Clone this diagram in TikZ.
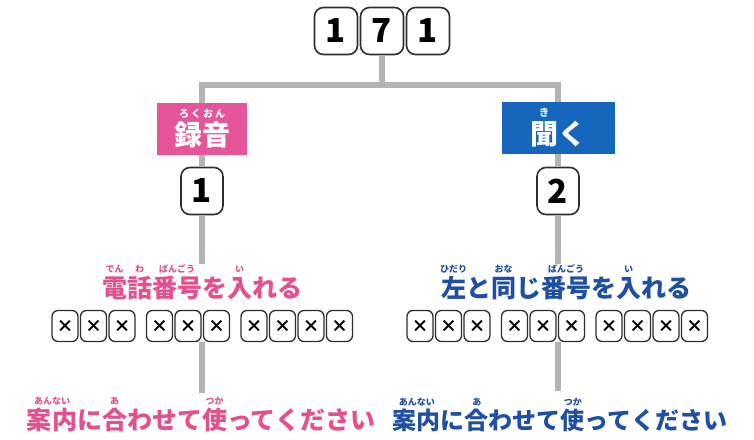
\documentclass[tikz,border=0pt]{standalone}
\usepackage{fontspec}
\newfontfamily\jp{Noto Sans CJK JP}
\definecolor{wiregray}{HTML}{B4B4B4}
\definecolor{keyline}{HTML}{2E2E2E}
\definecolor{recpink}{HTML}{E6549A}
\definecolor{txtpink}{HTML}{E4508F}
\definecolor{playblue}{HTML}{1766BE}
\definecolor{txtblue}{HTML}{1F4FA3}
\newcommand\rbsmall{\fontsize{9}{9}\selectfont}
\newcommand\rbbig{\fontsize{10}{10}\selectfont}
% ruby over a base word
\newcommand\rb[3][\rbsmall]{\leavevmode\setbox0\hbox{#2}%
  \rlap{\hbox to\wd0{\hss\raisebox{1.0em}{#1#3}\hss}}\box0}

\begin{document}
\begin{tikzpicture}[x=1pt, y=-1pt,
  wire/.style={draw=wiregray, line width=6pt},
  keybox/.style={draw=keyline, line width=1.6pt, rounded corners=9pt, fill=white,
    minimum width=43pt, minimum height=47pt, inner sep=0pt,
    font=\fontsize{33}{33}\selectfont\jp\bfseries},
  xbox/.style={draw=keyline, line width=1.3pt, rounded corners=6pt, fill=white,
    minimum width=26pt, minimum height=31pt, inner sep=0pt,
    font=\fontsize{17}{17}\selectfont\jp\bfseries},
  tag/.style={minimum height=52pt, inner sep=0pt, text=white,
    font=\fontsize{28}{28}\selectfont\jp\bfseries},
  guide/.style={anchor=base, inner sep=0pt,
    font=\fontsize{25}{25}\selectfont\jp\bfseries}]
  \useasboundingbox (0,0) rectangle (754,439);

  % dial number
  \node[keybox] (top1) at (336,31) {1};
  \node[keybox] (top2) at (382,31) {7};
  \node[keybox] (top3) at (428,31) {1};
  \coordinate (hub) at (382,85);
  \coordinate (hubL) at (202,85);
  \coordinate (hubR) at (558,85);

  % record / play
  \node[tag, fill=recpink, minimum width=90pt] (recL) at (202,129)
    {\rb[\rbbig]{録音}{ろ\kern2pt く\kern2pt お\kern2pt ん}};
  \node[tag, fill=playblue, minimum width=113pt] (recR) at (558,128)
    {\rb[\rbbig]{聞}{き}く};
  \node[keybox, minimum width=42pt] (numL) at (202,191) {1};
  \node[keybox, minimum width=42pt] (numR) at (558,191) {2};

  \node[guide, text=txtpink] (txtL) at (202,297)
    {\rb{電}{でん}\rb{話}{わ}\rb{番号}{ばんごう}を\rb{入}{い}れる};
  \node[guide, text=txtblue] (txtR) at (566,297)
    {\rb{左}{ひだり}と\rb{同}{おな}じ\rb{番号}{ばんごう}を\rb{入}{い}れる};

  \foreach \x [count=\i] in {65,93.5,122,159.5,188,216.5,254,282.5,311,339.5} {
    \node[xbox] (l\i) at (\x,326) {×};
    \node[xbox] (r\i) at (\x+355,326) {×};
  }

  \node[guide, text=txtpink] (endtxtL) at (201,429)
    {\rb{案内}{あんない}に\rb{合}{あ}わせて\rb{使}{つか}ってください};
  \node[guide, text=txtblue, font=\fontsize{24}{24}\selectfont\jp\bfseries]
    (endtxtR) at (560,429)
    {\rb{案内}{あんない}に\rb{合}{あ}わせて\rb{使}{つか}ってください};
  \coordinate (endL) at (202,393);
  \coordinate (endR) at (558,391);

  % connectors
  \draw[wire] (top2.south) -- (hub);
  \draw[wire] (recL.north) -- (hubL) -- (hubR) -- (recR.north);
  \draw[wire] (recL.south) -- (numL.north);
  \draw[wire] (recR.south) -- (numR.north);
  \draw[wire] (numL.south) -- (numL.south |- txtL.north);
  \draw[wire] (numR.south) -- (numR.south |- txtR.north);
  \draw[wire] (numL.south |- l1.south) -- (endL);
  \draw[wire] (numR.south |- r1.south) -- (endR);
\end{tikzpicture}
\end{document}
